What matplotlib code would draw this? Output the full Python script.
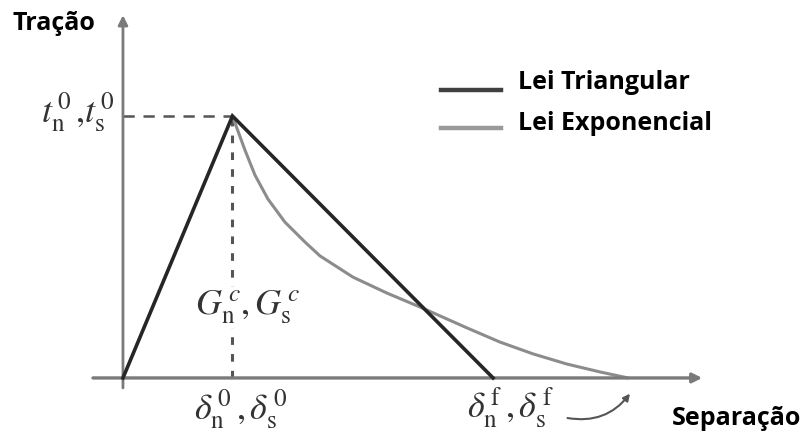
import numpy as np
import matplotlib
matplotlib.use("Agg")
import matplotlib.pyplot as plt

plt.rcParams['mathtext.fontset'] = 'stix'

# lei triangular (separação normalizada por delta0, tração por t0)
sep_tri = [0.0, 1.0, 3.38]
trac_tri = [0.0, 1.0, 0.0]

# lei exponencial
sep_exp = [1.0, 1.05, 1.114, 1.205, 1.324, 1.479, 1.662, 1.799, 2.10, 2.411,
           2.712, 3.142, 3.443, 3.744, 4.055, 4.356, 4.612]
trac_exp = [1.0, 0.943, 0.870, 0.775, 0.683, 0.595, 0.519, 0.466, 0.385, 0.324,
            0.271, 0.191, 0.137, 0.092, 0.053, 0.023, 0.0]

delta0 = 1.0
t0 = 1.0

fig = plt.figure(figsize=(8.08, 4.34), dpi=100)
ax = fig.add_axes([0, 0, 1, 1])
ax.set_xlim(-1.123, 6.256)
ax.set_ylim(-0.214, 1.443)
ax.axis('off')

# eixos com setas
ax.annotate('', xy=(5.29, 0), xytext=(-0.274, 0),
            arrowprops=dict(arrowstyle='-|>', color='#7a7a7a', lw=2.4,
                            mutation_scale=14, shrinkA=0, shrinkB=0))
ax.annotate('', xy=(0, 1.385), xytext=(0, -0.038),
            arrowprops=dict(arrowstyle='-|>', color='#7a7a7a', lw=2.0,
                            mutation_scale=14, shrinkA=0, shrinkB=0))

# linhas tracejadas
ax.plot([0, delta0], [t0, t0], ls=(0, (4.5, 3.5)), color='#555555', lw=1.8, zorder=1)
ax.plot([delta0, delta0], [0, t0], ls=(0, (2.5, 3)), color='#555555', lw=2.2, zorder=1)

# curvas
ax.plot(sep_exp, trac_exp, color='#8c8c8c', lw=2.2, solid_capstyle='round',
        solid_joinstyle='round', zorder=2)
ax.plot(sep_tri, trac_tri, color='#262626', lw=2.6, solid_joinstyle='miter', zorder=3)

# legenda manual
ax.plot([2.90, 3.45], [1.10, 1.10], color='#404040', lw=3.2)
ax.plot([2.90, 3.45], [0.955, 0.955], color='#999999', lw=3.2)
fnt = dict(fontsize=18, fontweight='bold', family='Open Sans', va='baseline', ha='left')
ax.text(3.61, 1.103, 'Lei Triangular', **fnt)
ax.text(3.61, 0.947, 'Lei Exponencial', **fnt)

# títulos dos eixos
ax.text(-1.005, 1.328, 'Tração', **fnt)
ax.text(5.01, -0.179, 'Separação', **fnt)

# rótulos matemáticos
gray = '#333333'
ax.text(-0.07, 0.975, r'$t_{\rm n}^{\,0}\,{,}t_{\rm s}^{\,0}$', fontsize=26,
        color=gray, ha='right', va='baseline')
ax.text(1.14, 0.241, r'$G_{\rm n}^{\,c}{,}\,G_{\rm s}^{\,c}$', fontsize=26,
        color=gray, ha='center', va='baseline', zorder=4,
        bbox=dict(facecolor='white', edgecolor='none', pad=1))
ax.text(1.08, -0.16, r'$\delta_{\rm n}^{\,0}\,{,}\,\delta_{\rm s}^{\,0}$', fontsize=26,
        color=gray, ha='center', va='baseline')
ax.text(3.54, -0.153, r'$\delta_{\rm n}^{\,\rm f}\,{,}\,\delta_{\rm s}^{\,\rm f}$', fontsize=26,
        color=gray, ha='center', va='baseline')

# seta curva
ax.annotate('', xy=(4.63, -0.06), xytext=(4.06, -0.153),
            arrowprops=dict(arrowstyle='-|>', color='#555555', lw=1.5,
                            mutation_scale=10, shrinkA=0, shrinkB=0,
                            connectionstyle='arc3,rad=0.3'))

fig.savefig('out.png', dpi=100)
